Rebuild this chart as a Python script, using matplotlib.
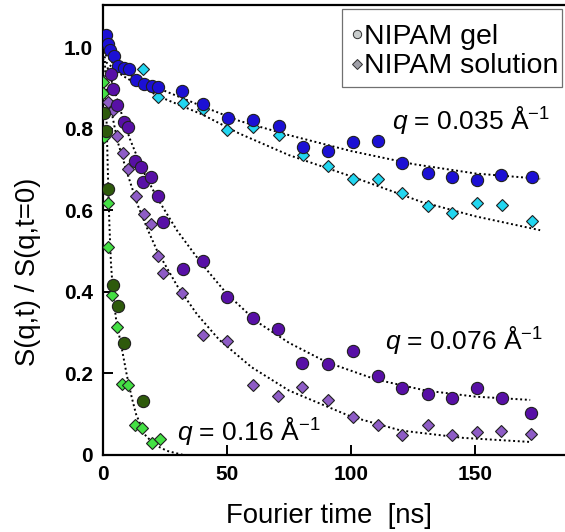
#!/usr/bin/env python3

import matplotlib
matplotlib.use("Agg")
import matplotlib.pyplot as plt
from matplotlib.lines import Line2D
from matplotlib.patches import Rectangle


# q = 0.035 1/A
gel_035_t = [1.3, 2.1, 2.9, 4.8, 6.4, 8.6, 10.7, 13.6, 16.6, 20.1, 22.5, 32.1, 40.5,
             50.4, 60.5, 70.9, 80.6, 90.5, 100.7, 110.9, 120.5, 131, 140.6, 150.6, 160.2, 172.8]
gel_035_s = [1.029, 1.007, 0.992, 0.979, 0.953, 0.948, 0.946, 0.920, 0.909, 0.905, 0.902, 0.892, 0.860,
             0.825, 0.821, 0.806, 0.756, 0.746, 0.767, 0.769, 0.715, 0.690, 0.682, 0.674, 0.687, 0.681]
sol_035_t = [16.3, 22.2, 32.4, 40.5, 50.1, 60.7, 70.9, 80.6, 90.5, 100.9, 110.6, 120.5,
             131, 140.6, 150.6, 160.5, 172.8]
sol_035_s = [0.946, 0.877, 0.863, 0.848, 0.797, 0.803, 0.784, 0.735, 0.708, 0.677, 0.677, 0.641,
             0.610, 0.592, 0.618, 0.612, 0.574]

# q = 0.076 1/A
gel_076_t = [3.3, 4.2, 5.9, 8.5, 10.4, 13.2, 15.4, 16.2, 19.7, 22.4, 24.5, 32.4, 40.6,
             50.2, 60.7, 70.6, 80.3, 90.5, 100.7, 110.6, 120.5, 131, 140.6, 150.6, 160.5, 172.5]
gel_076_s = [0.934, 0.896, 0.858, 0.815, 0.804, 0.720, 0.706, 0.668, 0.682, 0.635, 0.572, 0.455, 0.475,
             0.387, 0.336, 0.308, 0.225, 0.223, 0.254, 0.194, 0.163, 0.150, 0.140, 0.164, 0.140, 0.104]
sol_076_t = [2.1, 4.2, 5.8, 8.4, 10.3, 13.5, 16.5, 19.4, 22.4, 24.5, 32, 40.3, 50.2,
             60.5, 70.6, 80.3, 90.5, 100.7, 110.6, 120.5, 131, 140.6, 150.6, 160.2, 172.3]
sol_076_s = [0.865, 0.845, 0.783, 0.740, 0.702, 0.636, 0.591, 0.565, 0.488, 0.445, 0.398, 0.295, 0.280,
             0.172, 0.145, 0.167, 0.136, 0.092, 0.074, 0.050, 0.073, 0.050, 0.056, 0.058, 0.051]

# q = 0.16 1/A
gel_160_t = [0.8, 1.4, 2.4, 4.3, 6.4, 8.6, 16.3]
gel_160_s = [0.839, 0.795, 0.652, 0.417, 0.365, 0.274, 0.132]
sol_160_t = [0.2, 0.2, 0.5, 2.4, 2.4, 4.0, 5.9, 8.0, 10.2, 13.1, 15.8, 20.1, 23.0]
sol_160_s = [0.915, 0.888, 0.779, 0.617, 0.509, 0.393, 0.314, 0.174, 0.171, 0.073, 0.065, 0.029, 0.038]

# fitted curves
fit_gel_035_t = [0, 5, 10, 20, 30, 40, 55, 75, 100, 125, 150, 176]
fit_gel_035_s = [0.99, 0.955, 0.935, 0.905, 0.88, 0.855, 0.819, 0.784, 0.745, 0.713, 0.69, 0.677]
fit_sol_035_t = [0, 8, 15, 23, 40, 55, 75, 100, 128, 150, 176]
fit_sol_035_s = [0.97, 0.93, 0.905, 0.878, 0.835, 0.788, 0.735, 0.683, 0.621, 0.585, 0.551]
fit_gel_076_t = [2, 5, 8, 11, 16, 22, 30, 40, 50, 62, 75, 90, 110, 130, 150, 172]
fit_gel_076_s = [0.95, 0.89, 0.83, 0.775, 0.70, 0.63, 0.55, 0.468, 0.395, 0.327, 0.275, 0.228,
                 0.185, 0.158, 0.143, 0.135]
fit_sol_076_t = [1, 3, 6, 10, 14, 18, 22, 30, 38, 47, 60, 75, 100, 120, 145, 172]
fit_sol_076_s = [0.92, 0.86, 0.77, 0.69, 0.615, 0.555, 0.50, 0.415, 0.345, 0.282, 0.215, 0.158,
                 0.094, 0.06, 0.042, 0.032]
fit_160_t = [0.8, 1.3, 1.8, 2.3, 2.8, 3.4, 4.2, 5.5, 7.8, 9.8, 11.8, 13.5, 17, 21, 26, 32.5]
fit_160_s = [1.0, 0.9, 0.78, 0.66, 0.56, 0.47, 0.40, 0.33, 0.26, 0.195, 0.14, 0.10, 0.05, 0.025,
             0.01, 0.0]

XTICKS = [0, 50, 100, 150]
YTICKS = [0, 0.2, 0.4, 0.6, 0.8, 1.0]
LEGEND_LABELS = ["NIPAM gel", "NIPAM solution"]

W, H = 565, 532

plt.rcParams["font.family"] = ["Liberation Sans", "DejaVu Sans"]
plt.rcParams["mathtext.fontset"] = "custom"
plt.rcParams["mathtext.rm"] = "Liberation Sans"
plt.rcParams["mathtext.it"] = "Liberation Sans:italic"
plt.rcParams["mathtext.bf"] = "Liberation Sans:bold"

fig = plt.figure(figsize=(W / 100, H / 100), dpi=100)
ax = fig.add_axes([102.5 / W, 77 / H, 462.5 / W, 450 / H])

dot = dict(color="black", lw=1.4, ls=(0, (1, 1.4)), zorder=2)
for t, s in [(fit_gel_035_t, fit_gel_035_s), (fit_sol_035_t, fit_sol_035_s),
             (fit_gel_076_t, fit_gel_076_s), (fit_sol_076_t, fit_sol_076_s),
             (fit_160_t, fit_160_s)]:
    ax.plot(t, s, **dot)

circ = dict(ls="none", marker="o", ms=8.8, mec="#202020", mew=0.8, zorder=4)
diam = dict(ls="none", marker="D", ms=6.6, mec="#202020", mew=0.8, zorder=3)

ax.plot(sol_035_t, sol_035_s, mfc="#22d6f0", **diam)
ax.plot(gel_035_t, gel_035_s, mfc="#1c10d4", **circ)
ax.plot(sol_076_t, sol_076_s, mfc="#8e5cc6", **diam)
ax.plot(gel_076_t, gel_076_s, mfc="#5810a6", **circ)
ax.plot(gel_160_t, gel_160_s, mfc="#2e5a0c", **circ)
ax.plot(sol_160_t, sol_160_s, mfc="#44e044", **diam)

qfont = dict(fontsize=19)
ax.text(116.5, 0.80, r"$q$ = 0.035 Å$^{-1}$", **qfont)
ax.text(113.7, 0.261, r"$q$ = 0.076 Å$^{-1}$", **qfont)
ax.text(30.1, 0.037, r"$q$ = 0.16 Å$^{-1}$", **qfont)

ax.set_xlim(0, 186)
ax.set_ylim(0, 1.103)
ax.set_xticks(XTICKS)
ax.set_yticks(YTICKS)
ax.set_yticklabels(["0", "0.2", "0.4", "0.6", "0.8", "1.0"])
ax.tick_params(direction="in", length=7.5, width=1.4, pad=7, labelsize=15)
for lab in ax.get_xticklabels() + ax.get_yticklabels():
    lab.set_fontweight("bold")

for side in ["left", "top", "bottom"]:
    ax.spines[side].set_linewidth(1.6)
ax.spines["right"].set_visible(False)

ax.set_xlabel("Fourier time  [ns]", fontsize=19.8, va="center")
ax.xaxis.set_label_coords(0.489, -0.136)
ax.set_ylabel("S(q,t) / S(q,t=0)", fontsize=19.8, va="center")
ax.yaxis.set_label_coords(-0.162, 0.407)

# legend: frame drawn separately so that its box matches the original
handles = [
    Line2D([], [], ls="none", marker="o", ms=6, mfc="#c8cccc", mec="#303030", mew=0.7),
    Line2D([], [], ls="none", marker="D", ms=5, mfc="#a0a0a8", mec="#303030", mew=0.7),
]
ax.legend(handles, LEGEND_LABELS, loc="upper left",
          bbox_to_anchor=(352.7 / W, 1 - 23.5 / H), bbox_transform=fig.transFigure,
          borderaxespad=0, borderpad=0, fontsize=20.5, handlelength=0.3,
          handletextpad=0.08, labelspacing=0.14, frameon=False)
frame = Rectangle((342 / W, 1 - 87 / H), 220 / W, 78 / H, transform=fig.transFigure,
                  facecolor="white", edgecolor="#707070", lw=0.9, zorder=0)
fig.patches.append(frame)
ax.set_zorder(1)
ax.patch.set_alpha(0)

fig.savefig("out.png", dpi=100)
